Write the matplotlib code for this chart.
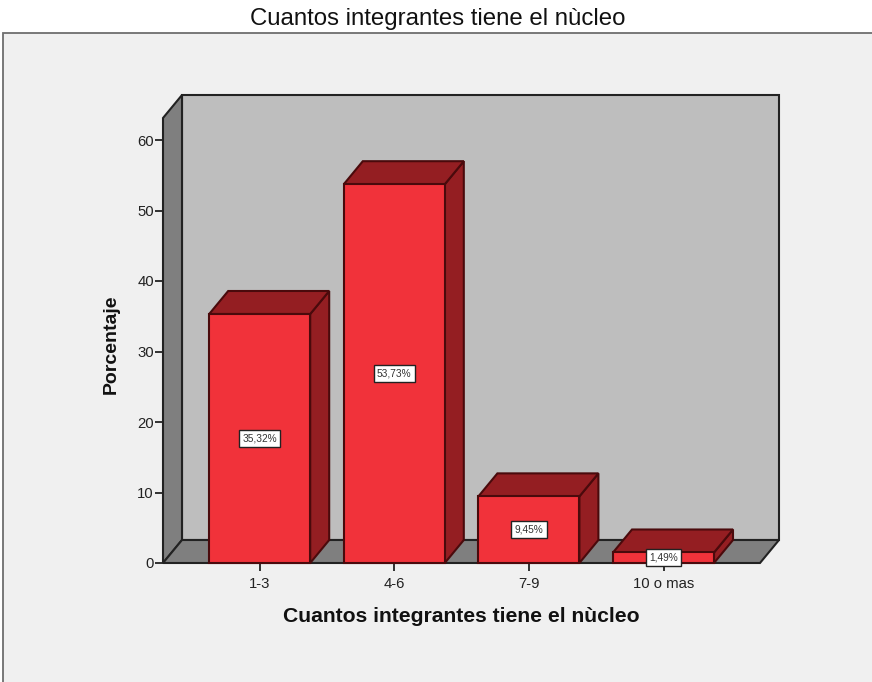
"""
Porcentaje de integrantes por nucleo, 3D style bars as drawn by SPSS.
"""

import matplotlib
matplotlib.use("Agg")
import matplotlib.pyplot as plt
from matplotlib.patches import Polygon, Rectangle

categories = ["1-3", "4-6", "7-9", "10 o mas"]
values = [35.32, 53.73, 9.45, 1.49]
labels = ["35,32%", "53,73%", "9,45%", "1,49%"]
y_ticks = [0, 10, 20, 30, 40, 50, 60]

title = "Cuantos integrantes tiene el nùcleo"
W, H = 872, 682

plt.rcParams["font.family"] = ["Liberation Sans", "DejaVu Sans"]

fig = plt.figure(figsize=(W / 100, H / 100), dpi=100, facecolor="white")

# panel behind the chart
fig.patches.append(Rectangle((3 / W, -0.01), 1.0, (H - 33) / H + 0.01, transform=fig.transFigure,
                             facecolor="#f0f0f0", edgecolor="#6e6e6e", linewidth=1.3, zorder=-1))

# axes box is the front face of the 3D room, in pixels
left, right, top, bottom = 163, 760, 118, 563
ax = fig.add_axes([left / W, (H - bottom) / H, (right - left) / W, (bottom - top) / H])
ax.patch.set_alpha(0)
step = 134.6
x0 = 259.7
ax.set_xlim((left - x0) / step, (right - x0) / step)
y_unit = 423 / 60
ax.set_ylim(0, (bottom - top) / y_unit)

dx = 19 / step
dy = 23 / y_unit
half = 50.5 / step
xa, xb = ax.get_xlim()
ya, yb = ax.get_ylim()

wall_edge = "#222222"
def poly(pts, color, edge, z=1, lw=1.5):
    ax.add_patch(Polygon(pts, closed=True, facecolor=color, edgecolor=edge, linewidth=lw,
                         zorder=z, clip_on=False, joinstyle="miter"))

poly([(xa + dx, ya + dy), (xb + dx, ya + dy), (xb + dx, yb + dy), (xa + dx, yb + dy)], "#bebebe", wall_edge)
poly([(xa, ya), (xa + dx, ya + dy), (xa + dx, yb + dy), (xa, yb)], "#7f7f7f", wall_edge)
poly([(xa, ya), (xb, ya), (xb + dx, ya + dy), (xa + dx, ya + dy)], "#7f7f7f", wall_edge)

bar_edge = "#4a0a0c"
for i, v in enumerate(values):
    l, r = i - half, i + half
    poly([(r, 0), (r + dx, dy), (r + dx, v + dy), (r, v)], "#941e22", bar_edge, z=3)
    poly([(l, v), (r, v), (r + dx, v + dy), (l + dx, v + dy)], "#941e22", bar_edge, z=3)
    poly([(l, 0), (r, 0), (r, v), (l, v)], "#f1323a", bar_edge, z=4)
    ax.text(i, v / 2, labels[i], ha="center", va="center", fontsize=7.3, color="#333333", zorder=6,
            bbox=dict(boxstyle="square,pad=0.33", facecolor="white", edgecolor="#222222", linewidth=1))

for s in ax.spines.values():
    s.set_visible(False)
ax.set_yticks(y_ticks)
ax.set_xticks(range(len(categories)))
ax.set_xticklabels(categories)
ax.tick_params(axis="both", length=6, width=1.3, color="#222222", labelsize=10.7, labelcolor="#222222", pad=0.5)
ax.tick_params(axis="x", pad=4)

fig.text(438 / W, 1 - 18.5 / H, title, ha="center", va="center", fontsize=17.3, color="#111111")
fig.text(461 / W, 1 - 617 / H, title, ha="center", va="center", fontsize=15.2, fontweight="bold", color="#111111")
fig.text(111 / W, 1 - 344 / H, "Porcentaje", ha="center", va="center", rotation=90, fontsize=14, fontweight="bold", color="#111111")

fig.savefig("out.png", dpi=100)
